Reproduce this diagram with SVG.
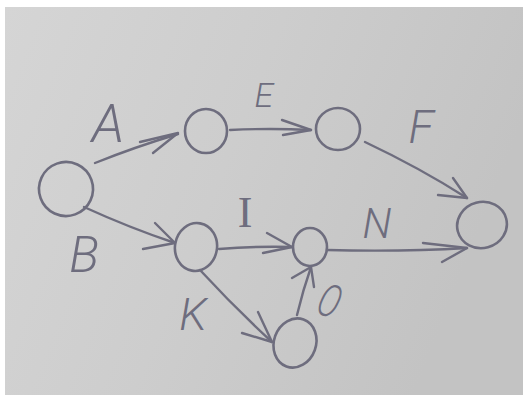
<svg xmlns="http://www.w3.org/2000/svg" width="527" height="397" viewBox="0 0 527 397">
<defs>
<linearGradient id="paper" x1="0" y1="0" x2="1" y2="0.3">
<stop offset="0" stop-color="#d5d5d5"/>
<stop offset="0.5" stop-color="#cdcdcd"/>
<stop offset="1" stop-color="#c3c3c3"/>
</linearGradient>
</defs>
<style>
.n{fill:none;stroke:#6e6d7e;stroke-width:2.6;stroke-linecap:round}
.e{fill:none;stroke:#6e6d7e;stroke-width:2.4;stroke-linecap:round;stroke-linejoin:round}
.t{fill:#6e6d7e;font-family:Roboto,"DejaVu Sans",sans-serif;font-weight:300;font-style:italic;text-anchor:middle}
.s{fill:#6e6d7e;font-family:"Liberation Serif",serif;text-anchor:middle}
</style>
<rect width="527" height="397" fill="#ffffff"/>
<rect x="5" y="7" width="518" height="388" fill="url(#paper)"/>
<g id="connectors">
<g id="edge-A"><path class="e" d="M95,163 Q135,147 178,134"/><path class="e" d="M140,142 L178,133 L153,153"/></g>
<g id="edge-B"><path class="e" d="M84,207 Q130,228 175,243"/><path class="e" d="M155,223 L175,243 L143,249"/></g>
<g id="edge-E"><path class="e" d="M230,130 Q270,128 311,130"/><path class="e" d="M282,120 L311,130 L283,135"/></g>
<g id="edge-F"><path class="e" d="M365,142 Q420,168 467,198"/><path class="e" d="M453,178 L467,198 L438,195"/></g>
<g id="edge-I"><path class="e" d="M219,249 Q255,246 292,247"/><path class="e" d="M267,233 L292,247 L263,253"/></g>
<g id="edge-N"><path class="e" d="M327,250 Q400,252 467,248"/><path class="e" d="M423,243 L467,248 L442,262"/></g>
<g id="edge-K"><path class="e" d="M200,270 Q235,308 272,342"/><path class="e" d="M258,312 L272,342 L242,333"/></g>
<g id="edge-O"><path class="e" d="M297,315 Q303,290 311,267"/><path class="e" d="M292,278 L311,267 L314,287"/></g>
</g>
<g id="node-start"><ellipse class="n" cx="66" cy="189" rx="27" ry="27" transform="rotate(-20 66 189)"/></g>
<g id="node-1"><ellipse class="n" cx="206" cy="131" rx="21" ry="22"/></g>
<g id="node-2"><ellipse class="n" cx="338" cy="129" rx="22" ry="21"/></g>
<g id="node-end"><ellipse class="n" cx="482" cy="225" rx="25" ry="23" transform="rotate(-15 482 225)"/></g>
<g id="node-3"><ellipse class="n" cx="196" cy="247" rx="21" ry="24" transform="rotate(10 196 247)"/></g>
<g id="node-4"><ellipse class="n" cx="310" cy="247" rx="17" ry="19"/></g>
<g id="node-5"><ellipse class="n" cx="295" cy="343" rx="21" ry="25" transform="rotate(20 295 343)"/></g>
<g id="labels">
<text class="t" x="108" y="142" font-size="54">A</text>
<text class="t" x="84" y="272" font-size="50">B</text>
<text class="t" x="264" y="107" font-size="34">E</text>
<text class="t" x="421" y="143" font-size="46">F</text>
<text class="s" x="245" y="227" font-size="44">I</text>
<text class="t" x="377" y="238" font-size="42">N</text>
<text class="t" x="193" y="330" font-size="45">K</text>
<text class="t" x="330" y="317" font-size="46" transform="rotate(20 330 300) translate(330 0) scale(0.7 1) translate(-330 0)">O</text>
</g>
</svg>
